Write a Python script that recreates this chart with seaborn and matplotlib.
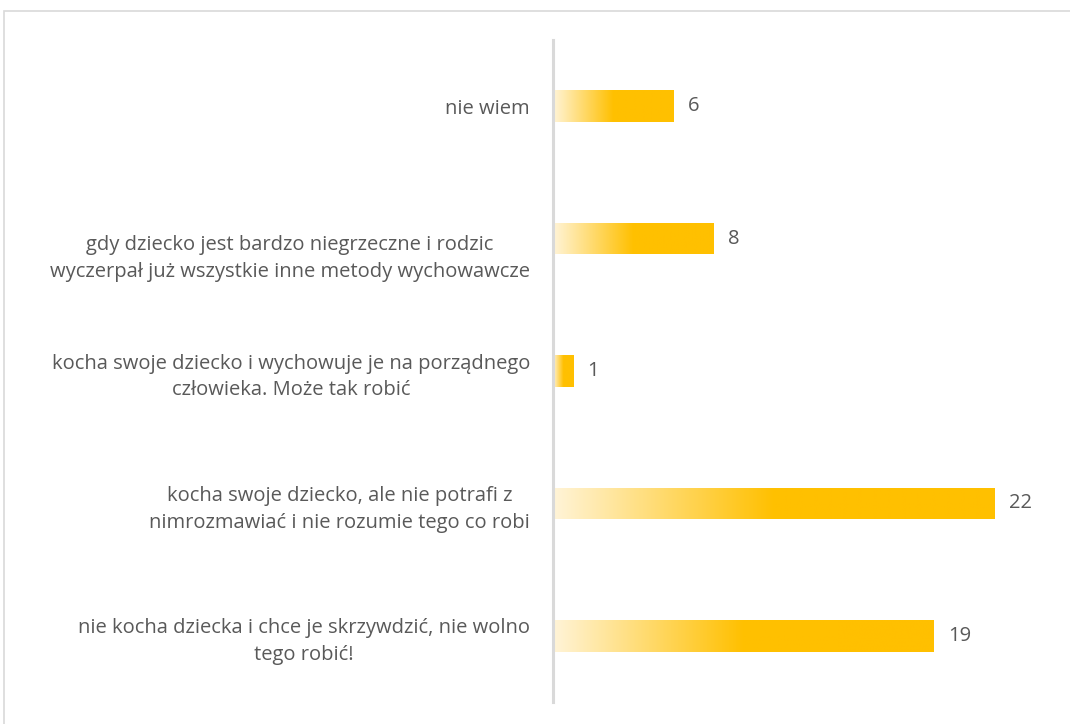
import numpy as np
import pandas as pd
import matplotlib
matplotlib.use("Agg")
import matplotlib.pyplot as plt
from matplotlib.colors import LinearSegmentedColormap
from matplotlib.patches import Rectangle
from matplotlib.transforms import ScaledTranslation
import seaborn as sns

categories = [
    "nie wiem",
    "gdy dziecko jest bardzo niegrzeczne i rodzic\nwyczerpał już wszystkie inne metody wychowawcze",
    "kocha swoje dziecko i wychowuje je na porządnego\nczłowieka. Może tak robić",
    "kocha swoje dziecko, ale nie potrafi z\nnimrozmawiać i nie rozumie tego co robi",
    "nie kocha dziecka i chce je skrzywdzić, nie wolno\ntego robić!",
]
values = [6, 8, 1, 22, 19]

TEXT = "#595959"
GOLD = "#FFC000"
GRID = "#D9D9D9"
FS = 14.5

sns.set_theme(style="white")
plt.rcParams["font.family"] = ["Open Sans", "DejaVu Sans"]

df = pd.DataFrame({"label": categories, "value": values})

W, H = 1070, 724
fig = plt.figure(figsize=(W / 100, H / 100), dpi=100)
ax = fig.add_axes([553 / W, 1 - 702.25 / H, (1050 - 553) / W, (702.25 - 39.75) / H])

sns.barplot(data=df, x="value", y="label", orient="h", color=GOLD,
            width=0.24, ax=ax, saturation=1)

XMAX = (1050 - 553) / 20.05

# gradient fill: pale cream on the left, full gold from half the bar onwards
cmap = LinearSegmentedColormap.from_list(
    "gold_fade", [(0.0, "#FFF4D8"), (0.5, GOLD), (1.0, GOLD)])
grad = np.linspace(0, 1, 256).reshape(1, -1)
for bar, v in zip(ax.patches, values):
    x0, y0 = bar.get_x(), bar.get_y()
    w, h = bar.get_width(), bar.get_height()
    bar.set_facecolor("none")
    bar.set_edgecolor("none")
    im = ax.imshow(grad, cmap=cmap, aspect="auto", extent=(x0, x0 + w, y0 + h, y0),
                   interpolation="bilinear", zorder=2)
    im.set_clip_path(bar)
    ax.text(x0 + w + 0.72, y0 + h / 2, f"{v}", va="center", ha="left",
            fontsize=FS, color=TEXT)

ax.set_xlim(0, XMAX)
ax.set_ylim(len(categories) - 0.5, -0.5)

ax.set_xlabel("")
ax.set_ylabel("")
ax.set_xticks([])
ax.tick_params(axis="y", length=0, pad=16.5, labelsize=FS, labelcolor=TEXT)
for i, lab in enumerate(ax.get_yticklabels()):
    lab.set_multialignment("center")
    lab.set_linespacing(1.45)
    if i == 1:
        # this label sits a little lower than its bar
        lab.set_transform(lab.get_transform()
                          + ScaledTranslation(0, -0.14, fig.dpi_scale_trans))

for side in ["top", "right", "bottom"]:
    ax.spines[side].set_visible(False)
ax.spines["left"].set_color(GRID)
ax.spines["left"].set_linewidth(2.2)
ax.set_facecolor("none")

# outer chart frame
fig.patches.append(Rectangle((3.5 / W, -0.05), 1.1, 1 - 10.5 / H + 0.05,
                             transform=fig.transFigure, fill=False,
                             edgecolor=GRID, linewidth=1.2))

fig.savefig("out.png", dpi=100, facecolor="white")
